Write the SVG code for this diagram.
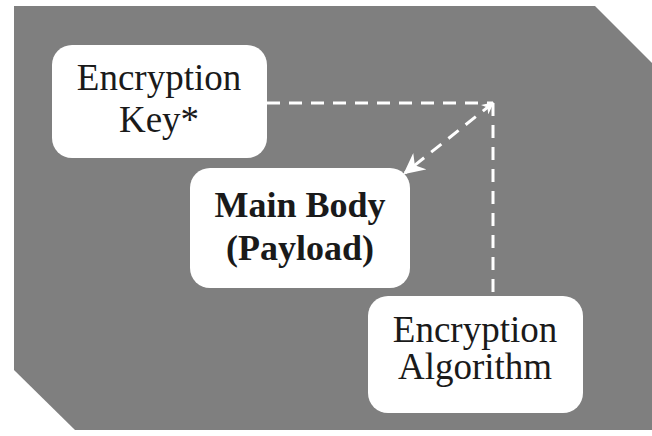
<svg xmlns="http://www.w3.org/2000/svg" width="652" height="436" viewBox="0 0 652 436">
<defs>
<style>
.bg{fill:#7f7f7f}
.box{fill:#ffffff}
.t{font-family:"Liberation Serif","Times New Roman",serif;font-size:37px;fill:#1a1a1a;text-anchor:middle}
.b{font-weight:bold;font-size:36px}
.dash{stroke:#ffffff;stroke-width:3;fill:none;stroke-dasharray:13 9}
</style>
<marker id="ah" viewBox="0 0 10 10" refX="9" refY="5" markerWidth="7" markerHeight="7" orient="auto" markerUnits="strokeWidth">
<path d="M0,0 L10,5 L0,10 L3,5 Z" fill="#ffffff"/>
</marker>
<marker id="ahs" viewBox="0 0 10 10" refX="9" refY="5" markerWidth="4" markerHeight="4" orient="auto-start-reverse" markerUnits="strokeWidth">
<path d="M0,0 L10,5 L0,10 L3,5 Z" fill="#ffffff"/>
</marker>
</defs>
<rect width="652" height="436" fill="#ffffff"/>
<polygon class="bg" points="14,6 595,6 652,63 652,430 75,430 14,370"/>
<g id="connectors">
<path class="dash" d="M267,103 L493,103"/>
<path class="dash" d="M493,103 L493,292"/>
<path class="dash" d="M493,103 L405,173" marker-start="url(#ahs)" marker-end="url(#ah)"/>
</g>
<g id="key">
<rect class="box" x="52" y="45" width="215" height="113" rx="20"/>
<text class="t" x="159" y="90">Encryption</text>
<text class="t" x="159" y="132">Key*</text>
</g>
<g id="body">
<rect class="box" x="190" y="168" width="220" height="120" rx="20"/>
<text class="t b" x="300" y="217">Main Body</text>
<text class="t b" x="300" y="260">(Payload)</text>
</g>
<g id="algorithm">
<rect class="box" x="368" y="296" width="215" height="117" rx="20"/>
<text class="t" x="475" y="342">Encryption</text>
<text class="t" x="475" y="379">Algorithm</text>
</g>
</svg>
